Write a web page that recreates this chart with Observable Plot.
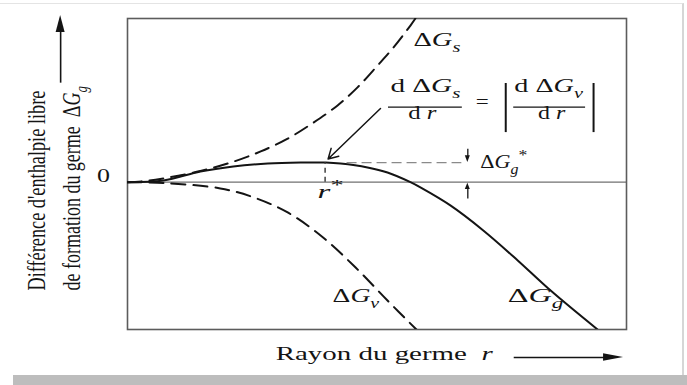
<!DOCTYPE html>
<html>
<head>
<meta charset="utf-8">
<script src="https://cdn.jsdelivr.net/npm/d3@7"></script>
<script src="https://cdn.jsdelivr.net/npm/@observablehq/plot@0.6"></script>
<style>
  body { margin: 0; background: #fff; }
  #wrap { position: relative; width: 687px; height: 385px; overflow: hidden; background: #fff; }
  #wrap svg { position: absolute; left: 0; top: 0; }
  #edge { position: absolute; left: 0; top: 3px; width: 682px; height: 372px;
          border-top: 1px solid #e4e4e4; border-right: 2px solid #d6d6d6; pointer-events: none; }
  #band { position: absolute; left: 13px; top: 375px; width: 674px; height: 10px; background: #bdbdbd; }
</style>
</head>
<body>
<div id="wrap"><div id="edge"></div><div id="band"></div></div>
<script>
// Rayon du germe r (unités arbitraires) et enthalpies libres correspondantes
const rSurface = [0, 0.36, 0.72, 1.46, 2.12, 2.67, 3.21, 3.73, 4.21, 4.61, 5.01, 5.33, 5.67, 5.77];
const gSurface = [0, 0.07, 0.23, 0.68, 1.25, 1.88, 2.66, 3.65, 4.69, 5.79, 7.12, 8.23, 9.57, 10.0];

const rVolume = [0, 0.72, 1.86, 2.53, 3.21, 3.87, 4.53, 5.21, 5.79];
const gVolume = [0, -0.05, -0.38, -0.93, -1.85, -3.26, -5.09, -7.23, -9.0];

const rGerme = [0, 0.72, 1.46, 2.12, 2.81, 3.47, 3.97, 4.27, 4.81, 5.21, 5.67, 5.87, 6.47, 7.13, 7.82, 8.48, 9.42];
const gGerme = [0, 0.10, 0.65, 0.96, 1.14, 1.20, 1.20, 1.14, 0.90, 0.59, 0.0, -0.32, -1.42, -2.95, -4.78, -6.62, -9.0];

// rayon critique r* et barrière ΔGg*
const rCritique = 3.96;
const gCritique = 1.20;

const rows = (rs, gs) => rs.map((r, i) => ({r, g: gs[i]}));

// Textes (notation : [x] italique, _x indice, ^x exposant)
const horizontalLabels = [
  {text: "Δ[G]_s", r: 5.73, g: 8.29, anchor: "start", w: 47},
  {text: "Δ[G]_v", r: 4.11, g: -7.35, anchor: "start", w: 48},
  {text: "Δ[G]_g", r: 7.62, g: -7.35, anchor: "start", w: 56},
  {text: "Δ[G]_g^*", r: 7.07, g: 0.84, anchor: "start", w: 47},
  {text: "[r]^*", r: 3.81, g: -0.98, anchor: "start", w: 26},
  {text: "0", r: -0.48, g: 0, anchor: "middle", w: 13},
  {text: "d Δ[G]_s", r: 5.97, g: 5.48, anchor: "middle", w: 70},
  {text: "d [r]", r: 5.91, g: 3.83, anchor: "middle", w: 29},
  {text: "=", r: 7.11, g: 4.56, anchor: "middle", w: 13},
  {text: "d Δ[G]_v", r: 8.44, g: 5.48, anchor: "middle", w: 70},
  {text: "d [r]", r: 8.50, g: 3.83, anchor: "middle", w: 28},
  {text: "Rayon du germe  [r]", r: 2.97, g: -10.85, anchor: "start", w: 218}
];
const verticalLabels = [
  {text: "Différence d'enthalpie libre", r: -1.66, g: -6.62, anchor: "start", w: 200},
  {text: "de formation du germe  Δ[G]_g", r: -0.96, g: -6.62, anchor: "start", w: 205}
];

const ink = "#141414";

const chart = Plot.plot({
  width: 687,
  height: 385,
  marginLeft: 127,
  marginRight: 61,
  marginTop: 18,
  marginBottom: 56,
  x: {domain: [0, 10], axis: null},
  y: {domain: [-9, 10], axis: null},
  style: {fontFamily: "Liberation Serif", background: "transparent", overflow: "visible"},
  marks: [
    Plot.ruleY([0], {stroke: "#707070", strokeWidth: 1.2}),
    Plot.frame({stroke: "#5c5c5c", strokeWidth: 1.6}),
    // ΔGs et ΔGv en tirets, ΔGg en trait plein
    Plot.line(rows(rSurface, gSurface), {x: "r", y: "g", curve: "catmull-rom", stroke: ink, strokeWidth: 2, strokeDasharray: "14,8", clip: true}),
    Plot.line(rows(rVolume, gVolume), {x: "r", y: "g", curve: "catmull-rom", stroke: ink, strokeWidth: 2, strokeDasharray: "14,8", clip: true}),
    Plot.line(rows(rGerme, gGerme), {x: "r", y: "g", curve: "catmull-rom", stroke: ink, strokeWidth: 2, clip: true}),
    // repères du maximum
    Plot.ruleX([rCritique], {y1: 0, y2: gCritique, stroke: "#333", strokeWidth: 1.4, strokeDasharray: "5,4"}),
    Plot.ruleY([gCritique], {x1: 4.4, x2: 6.7, stroke: "#8a8a8a", strokeWidth: 1.3, strokeDasharray: "10,5"}),
    // flèche vers le maximum
    Plot.arrow([{x1: 5.07, y1: 4.50, x2: 4.02, y2: 1.42}], {x1: "x1", y1: "y1", x2: "x2", y2: "y2", stroke: ink, strokeWidth: 1.5, headLength: 11}),
    // cotes de ΔGg*
    Plot.link([{x1: 6.82, y1: 2.05, x2: 6.82, y2: 1.55}, {x1: 6.82, y1: -1.0, x2: 6.82, y2: -0.35}],
      {x1: "x1", y1: "y1", x2: "x2", y2: "y2", stroke: ink, strokeWidth: 1.3}),
    Plot.areaX([{y: 1.62, x1: 6.77, x2: 6.87}, {y: gCritique, x1: 6.82, x2: 6.82}], {y: "y", x1: "x1", x2: "x2", fill: ink}),
    Plot.areaX([{y: -0.45, x1: 6.77, x2: 6.87}, {y: -0.06, x1: 6.82, x2: 6.82}], {y: "y", x1: "x1", x2: "x2", fill: ink}),
    // formule dΔGs/dr = |dΔGv/dr|
    Plot.ruleY([{g: 4.59, a: 5.23, b: 6.71}, {g: 4.59, a: 7.74, b: 9.18}], {y: "g", x1: "a", x2: "b", stroke: ink, strokeWidth: 1.2}),
    Plot.ruleX([{r: 7.58}, {r: 9.34}], {x: "r", y1: 6.03, y2: 3.03, stroke: ink, strokeWidth: 2}),
    // flèches des axes
    Plot.link([{x1: -1.34, y1: 6.08, x2: -1.34, y2: 9.3}, {x1: 7.74, y1: -10.71, x2: 9.6, y2: -10.71}],
      {x1: "x1", y1: "y1", x2: "x2", y2: "y2", stroke: ink, strokeWidth: 1.6}),
    Plot.areaX([{y: 9.14, x1: -1.43, x2: -1.25}, {y: 10.18, x1: -1.34, x2: -1.34}], {y: "y", x1: "x1", x2: "x2", fill: ink}),
    Plot.areaY([{x: 9.54, y1: -10.94, y2: -10.48}, {x: 9.94, y1: -10.71, y2: -10.71}], {x: "x", y1: "y1", y2: "y2", fill: ink}),
    // textes
    Plot.text(horizontalLabels.filter(d => d.anchor === "start"), {x: "r", y: "g", text: "text", textAnchor: "start", fontSize: 19, fill: ink}),
    Plot.text(horizontalLabels.filter(d => d.anchor === "middle"), {x: "r", y: "g", text: "text", textAnchor: "middle", fontSize: 19, fill: ink}),
    Plot.text(verticalLabels, {x: "r", y: "g", text: "text", textAnchor: "start", rotate: -90, fontSize: 18, fill: ink})
  ]
});

document.getElementById("wrap").prepend(chart);

// Mise en forme : italiques, indices, exposants, puis largeur de chaque texte
const SVGNS = "http://www.w3.org/2000/svg";
function richText(el) {
  const raw = el.textContent;
  if (!/[\[_^]/.test(raw)) return;
  const fs = parseFloat(getComputedStyle(el).fontSize) || 19;
  el.textContent = "";
  let shift = 0;
  const add = (s, italic, level) => {
    const t = document.createElementNS(SVGNS, "tspan");
    t.textContent = s;
    const target = level < 0 ? 0.3 * fs : level > 0 ? -0.42 * fs : 0;
    if (target !== shift) { t.setAttribute("dy", target - shift); shift = target; }
    if (level) t.setAttribute("font-size", (level > 0 ? 0.8 : 0.72) * fs);
    if (italic) t.setAttribute("font-style", "italic");
    el.appendChild(t);
  };
  for (let i = 0; i < raw.length; i++) {
    const c = raw[i];
    if (c === "[") { const j = raw.indexOf("]", i); add(raw.slice(i + 1, j), true, 0); i = j; }
    else if (c === "_") { add(raw[i + 1], true, -1); i++; }
    else if (c === "^") { add(raw[i + 1], false, 1); i++; }
    else { let j = i; while (j < raw.length && !"[_^".includes(raw[j])) j++; add(raw.slice(i, j), false, 0); i = j - 1; }
  }
}
function stretch(el, sx, sy) {
  const x = +el.getAttribute("x") || 0, y = +el.getAttribute("y") || 0;
  el.removeAttribute("x"); el.removeAttribute("y");
  const t = el.getAttribute("transform") || "";
  el.setAttribute("transform", `${t} translate(${x},${y}) scale(${sx},${sy})`);
}
const specs = [
  ...horizontalLabels.filter(d => d.anchor === "start").map(d => ({...d, sy: 1})),
  ...horizontalLabels.filter(d => d.anchor === "middle").map(d => ({...d, sy: 1})),
  ...verticalLabels.map(d => ({...d, sy: 1.35}))
];
const texts = chart.querySelectorAll('g[aria-label="text"] text');
texts.forEach((el, i) => {
  const spec = specs[i];
  if (!spec) return;
  richText(el);
  const box = el.getBBox();
  const sx = box.width > 0 ? spec.w / box.width : 1;
  stretch(el, sx, spec.sy);
});
</script>
</body>
</html>
